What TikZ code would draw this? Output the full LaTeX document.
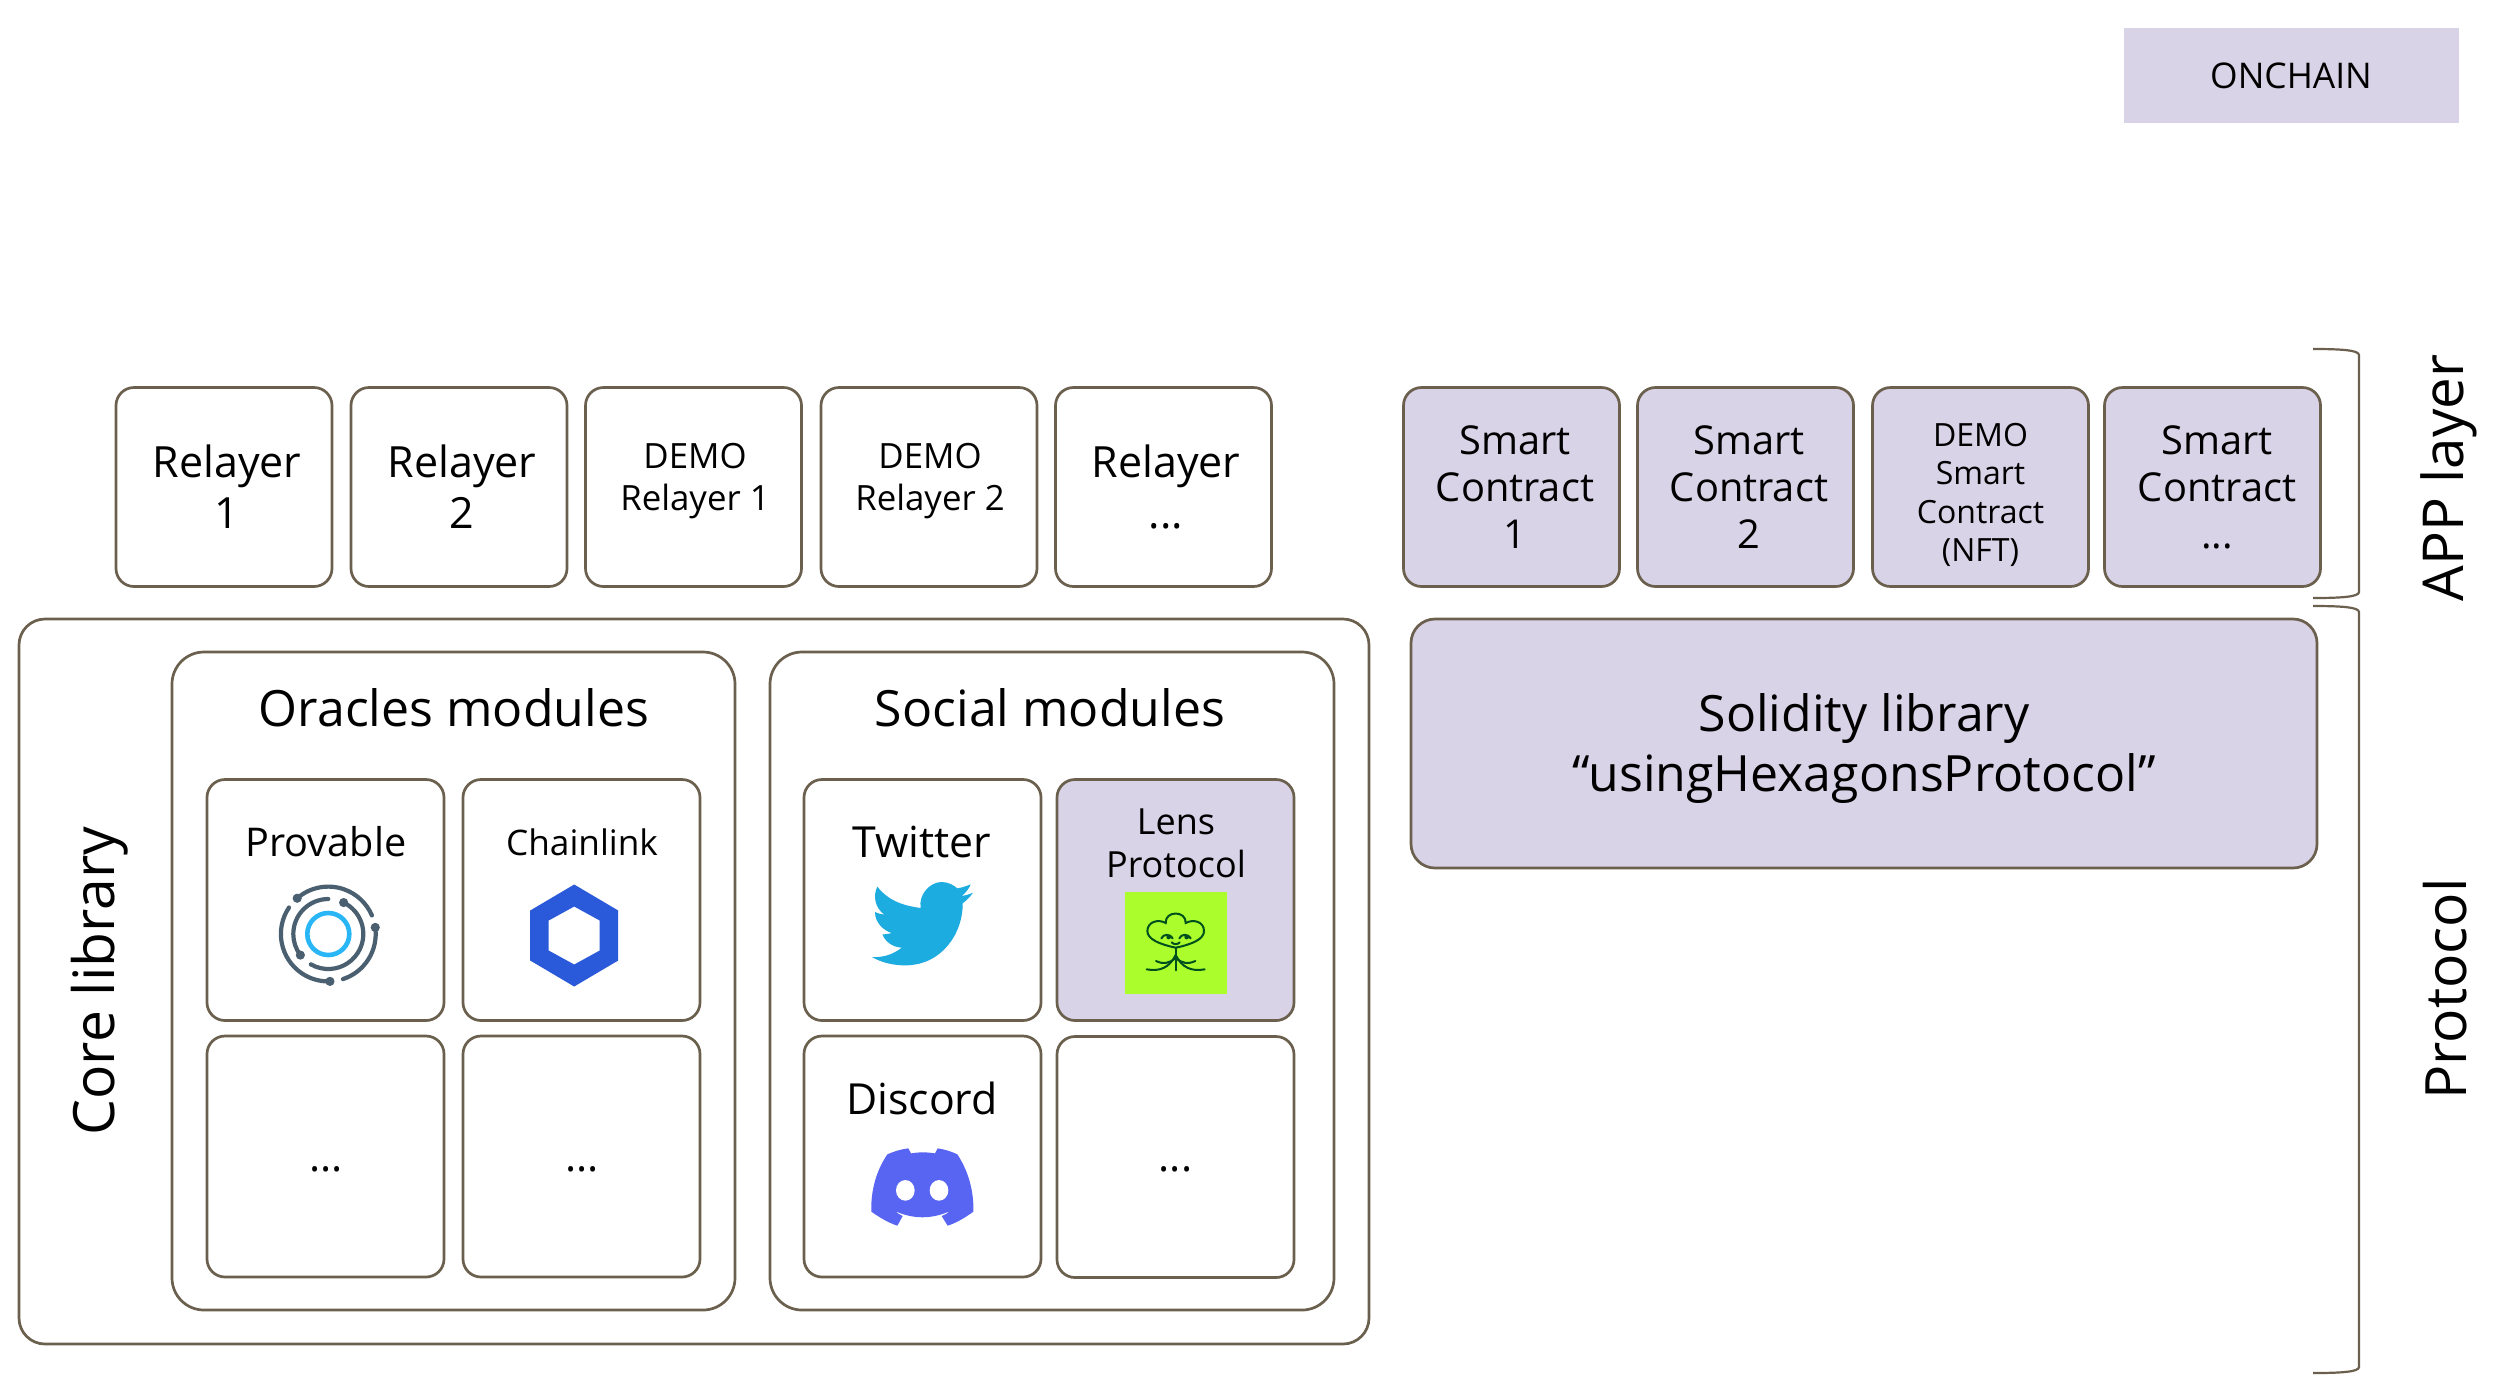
\documentclass[tikz,border=0pt]{standalone}
\usepackage{fontspec}
\setmainfont{Open Sans}
\definecolor{edge}{HTML}{6B5F4E}
\definecolor{lilac}{HTML}{D8D3E6}
\definecolor{provgrey}{HTML}{4A6070}
\definecolor{provblue}{HTML}{29B6F6}
\definecolor{linkblue}{HTML}{2A5ADA}
\definecolor{birdblue}{HTML}{1DACE0}
\definecolor{discordblue}{HTML}{5865F2}
\definecolor{lensbg}{HTML}{ABFE2C}
\definecolor{lensdark}{HTML}{00501E}
\tikzset{
  x=0.5pt,y=-0.5pt,
  box/.style={draw=edge,line width=1.35pt,rounded corners=9pt,align=center,inner sep=0pt,text=black},
  big/.style={box,rounded corners=16pt},
  plain/.style={box,fill=white},
  chain/.style={box,fill=lilac},
  relay/.style={minimum width=108pt,minimum height=99.5pt},
  cell/.style={minimum width=118.5pt,minimum height=120.5pt},
  nm/.style={font=\fontsize{21.5}{25.5}\selectfont},
  sm/.style={font=\fontsize{17.4}{21.2}\selectfont},
  ct/.style={font=\fontsize{19.9}{23.5}\selectfont},
  hd/.style={font=\fontsize{25}{30}\selectfont},
  lab/.style={align=center,inner sep=0pt,text=black},
  dots/.style={lab,font=\fontsize{21}{24}\selectfont},
  side/.style={lab,rotate=90,font=\fontsize{28.5}{34}\selectfont},
  brace/.style={draw=edge,line width=1.1pt},
}
\begin{document}
\begin{tikzpicture}
\useasboundingbox (0,0) rectangle (2516,1394);
% onchain legend
\node[lab,fill=lilac,minimum width=167.5pt,minimum height=47.5pt,font=\fontsize{17.7}{20}\selectfont] (onchain) at (2291,75.5) {ONCHAIN};
% relayers
\node[plain,relay] (r1) at (224,487) {};
\node[plain,relay] (r2) at (459,487) {};
\node[plain,relay] (r3) at (693.5,487) {};
\node[plain,relay] (r4) at (929,487) {};
\node[plain,relay] (r5) at (1163.5,487) {};
\node[lab,nm] (r1t) at (227,487) {Relayer\\1};
\node[lab,nm] (r2t) at (462,487) {Relayer\\2};
\node[lab,sm] (r3t) at (695,481) {DEMO\\Relayer 1};
\node[lab,sm] (r4t) at (930,481) {DEMO\\Relayer 2};
\node[lab,nm] (r5t) at (1166,487) {Relayer\\...};
% contracts
\node[chain,relay] (s1) at (1511.5,487) {};
\node[chain,relay] (s2) at (1745.5,487) {};
\node[chain,relay] (s3) at (1980.5,487) {};
\node[chain,relay] (s4) at (2212.5,487) {};
\node[lab,ct] (s1t) at (1515,487) {Smart\\Contract\\1};
\node[lab,ct] (s2t) at (1749,487) {Smart\\Contract\\2};
\node[lab,font=\fontsize{16}{19.2}\selectfont] (s3t) at (1980.5,495) {DEMO\\Smart\\Contract\\(NFT)};
\node[lab,ct] (s4t) at (2217,487) {Smart\\Contract\\...};
% core
\node[big,fill=white,rounded corners=13pt,minimum width=675pt,minimum height=362.5pt] (core) at (694,981.5) {};
\node[big,fill=white,minimum width=281.5pt,minimum height=329pt] (oracles) at (453.5,981) {};
\node[big,fill=white,minimum width=282pt,minimum height=329pt] (social) at (1052,981) {};
\node[chain,big,rounded corners=12pt,minimum width=453pt,minimum height=124.5pt] (solidity) at (1864,743.5) {};
\node[lab,font=\fontsize{25}{30}\selectfont] (solt) at (1864,748) {Solidity library\\“usingHexagonsProtocol”};
\node[side] (corelab) at (100,981) {Core library};
\node[lab,hd] (oraclab) at (454,708) {Oracles modules};
\node[lab,hd] (soclab) at (1050,708) {Social modules};
% cells
\node[plain,cell] (provable) at (325.5,900) {};
\node[plain,cell] (chainlink) at (581.5,900) {};
\node[plain,cell] (o3) at (325.5,1156.5) {};
\node[plain,cell] (o4) at (581.5,1156.5) {};
\node[plain,cell] (twitter) at (922.5,900) {};
\node[chain,cell] (lens) at (1175.5,900) {};
\node[plain,cell] (discord) at (922.5,1156.5) {};
\node[plain,cell] (s4c) at (1175.5,1157) {};
\node[dots] (o3t) at (326,1169) {...};
\node[dots] (o4t) at (582,1169) {...};
\node[dots] (s4ct) at (1175.5,1169) {...};
\node[lab,font=\fontsize{19.8}{24}\selectfont] (provlab) at (326,842) {Provable};
\node[lab,font=\fontsize{17.6}{21}\selectfont] (linklab) at (582,842) {Chainlink};
\node[lab,font=\fontsize{21.4}{25}\selectfont] (twlab) at (922,842) {Twitter};
\node[lab,font=\fontsize{18}{21.5}\selectfont] (lenslab) at (1176,843) {Lens\\Protocol};
\node[lab,font=\fontsize{21.4}{25}\selectfont] (dclab) at (922,1098) {Discord};
% Provable icon
\begin{scope}[shift={(328.3,934)},line cap=round]
  \draw[provblue,line width=2.3pt] (0,0) circle[radius=10.5pt];
  \foreach \a/\b/\r in {131/23/23.7, 8/-72/23.7, 146/272/23.7, 90/217/17.5, 64/-120/17.5}{
    \draw[provgrey,line width=2.1pt] (\a:\r pt) arc[start angle=\a,end angle=\b,radius=\r pt];
  }
  \foreach \a/\r in {131/23.7, 8/23.7, 272/23.7, 217/17.5, 64/17.5}{
    \fill[provgrey] (\a:\r pt) circle[radius=2.3pt];
  }
\end{scope}
% Chainlink icon
\begin{scope}[shift={(574.2,935.5)}]
  \fill[linkblue,even odd rule] (0,-51)--(44,-25)--(44,25)--(0,51)--(-44,25)--(-44,-25)--cycle
    (0,-29)--(25.5,-15)--(25.5,15)--(0,29)--(-25.5,15)--(-25.5,-15)--cycle;
\end{scope}
% Twitter icon
\begin{scope}[shift={(800,771)},x=0.16667pt,y=-0.16667pt]
  \fill[birdblue] (232,347) .. controls (270,395) and (320,405) .. (362,411)
    .. controls (355,370) and (390,333) .. (425,333)
    .. controls (445,333) and (460,342) .. (472,352)
    .. controls (485,350) and (500,345) .. (512,340)
    .. controls (507,352) and (498,365) .. (485,375)
    .. controls (497,373) and (508,370) .. (519,365)
    .. controls (510,378) and (500,388) .. (488,397)
    .. controls (490,480) and (430,583) .. (315,583)
    .. controls (280,583) and (245,575) .. (216,558)
    .. controls (250,560) and (280,550) .. (305,530)
    .. controls (275,528) and (255,510) .. (247,490)
    .. controls (258,490) and (268,488) .. (275,486)
    .. controls (250,478) and (225,455) .. (225,423)
    .. controls (233,427) and (243,430) .. (253,431)
    .. controls (225,410) and (218,375) .. (232,347) -- cycle;
  % Discord icon
  \fill[discordblue] (325,1132) -- (333,1147) .. controls (358,1143) and (380,1143) .. (405,1147) -- (413,1132)
    .. controls (435,1135) and (455,1142) .. (472,1150)
    .. controls (505,1200) and (522,1260) .. (520,1322)
    .. controls (495,1340) and (470,1355) .. (443,1364)
    -- (425,1335) .. controls (435,1331) and (443,1327) .. (450,1320)
    .. controls (395,1345) and (340,1345) .. (285,1320)
    .. controls (292,1327) and (300,1331) .. (308,1335)
    -- (292,1364) .. controls (265,1355) and (240,1340) .. (214,1322)
    .. controls (212,1260) and (228,1200) .. (262,1150)
    .. controls (280,1142) and (300,1135) .. (325,1132) -- cycle;
  \fill[white] (316,1258) ellipse[x radius=28,y radius=31];
  \fill[white] (417,1258) ellipse[x radius=28,y radius=31];
  % Lens icon
  \fill[lensbg] (974,363) rectangle (1281,669);
  \begin{scope}[draw=lensdark,line width=1pt,line cap=round]
    \draw (1127,530) .. controls (1080,520) and (1042,505) .. (1042,480)
      .. controls (1042,452) and (1075,443) .. (1097,456)
      .. controls (1095,418) and (1159,418) .. (1157,456)
      .. controls (1180,443) and (1212,452) .. (1212,480)
      .. controls (1212,505) and (1175,520) .. (1127,530) -- cycle;
    \draw (1127,530) -- (1127,598);
    \draw (1040,595) .. controls (1080,602) and (1108,590) .. (1127,552);
    \draw (1214,595) .. controls (1174,602) and (1146,590) .. (1127,552);
    \draw (1068,570) .. controls (1090,580) and (1108,578) .. (1127,560);
    \draw (1186,570) .. controls (1164,580) and (1146,578) .. (1127,560);
    \draw (1084,502) .. controls (1090,488) and (1110,488) .. (1118,502);
    \draw (1138,502) .. controls (1144,488) and (1164,488) .. (1172,502);
    \draw (1115,514) .. controls (1120,521) and (1134,521) .. (1139,514);
    \fill[lensdark] (1106,498) circle[radius=7];
    \fill[lensdark] (1160,498) circle[radius=7];
  \end{scope}
\end{scope}
% braces
\coordinate (a1) at (2313,349); \coordinate (a2) at (2313,598);
\coordinate (b1) at (2313,606); \coordinate (b2) at (2313,1373);
\draw[brace] (a1) .. controls (2340,349) and (2359,350) .. (2359,355) -- (2359,592) .. controls (2359,597) and (2340,598) .. (a2);
\draw[brace] (b1) .. controls (2340,606) and (2359,607) .. (2359,612) -- (2359,1367) .. controls (2359,1372) and (2340,1373) .. (b2);
\node[side,font=\fontsize{28.2}{34}\selectfont] (applab) at (2449,478) {APP layer};
\node[side] (protlab) at (2445,989) {Protocol};
\end{tikzpicture}
\end{document}
